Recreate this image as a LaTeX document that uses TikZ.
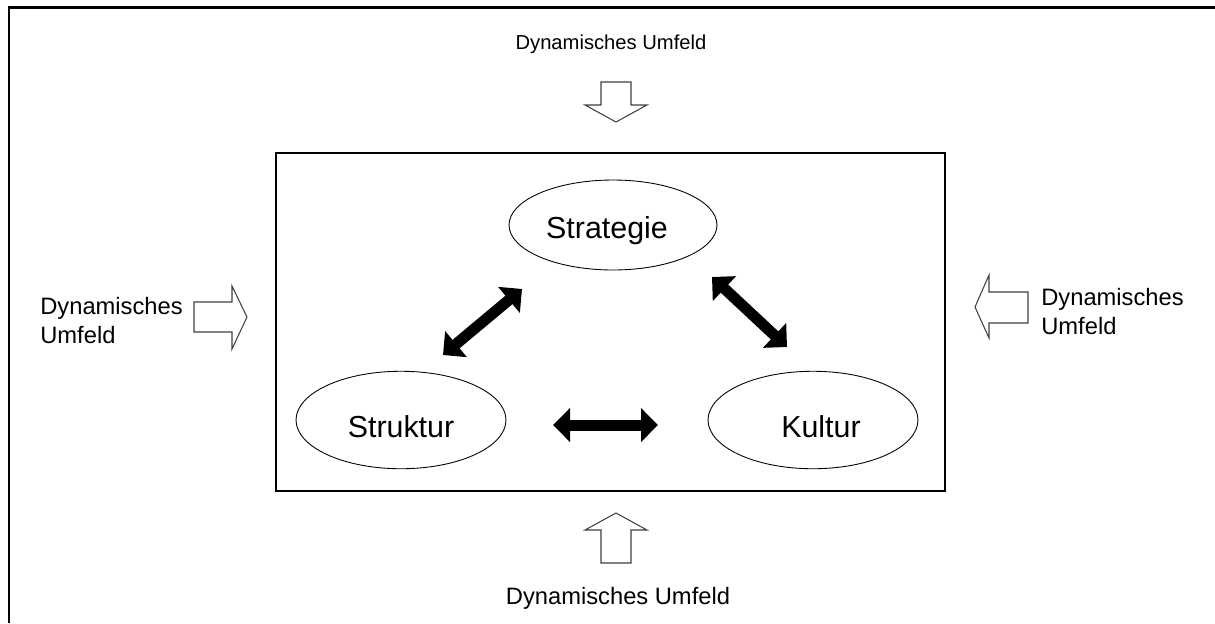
\documentclass[tikz,border=0pt]{standalone}
\usepackage{fontspec}
\setmainfont{Liberation Sans}
\usepackage{tikz}
\usetikzlibrary{shapes.geometric, arrows.meta}

\begin{document}
\begin{tikzpicture}[x=0.02cm, y=-0.02cm,
    oval/.style={ellipse, draw=black, line width=0.5pt, inner sep=0pt,
      text height=0.68cm, text depth=0pt,
      minimum width=4.2cm, minimum height=1.95cm, font=\fontsize{17.3}{20}\selectfont},
    umfeld/.style={font=\fontsize{13.5}{16.5}\selectfont, align=left, inner sep=0pt},
    dblarrow/.style={line width=0.22cm,
      {Triangle[length=0.34cm, width=0.66cm]}-{Triangle[length=0.34cm, width=0.66cm]}},
    hollow/.style={draw=black!75, line width=0.6pt, fill=white, line join=miter}]
      \useasboundingbox (0,0) rectangle (1215,623);

      \draw[line width=0.06cm] (9,623) -- (9,7) -- (1215,7);
      \draw[line width=0.85pt] (276,153) rectangle (945,491);

      \node[oval, minimum width=4.16cm, minimum height=1.8cm, text height=0.52cm] (strategie) at (613,225) {Strategie\rule{0.24cm}{0pt}};
      \node[oval] (struktur) at (401,420) {Struktur};
      \node[oval] (kultur) at (813,420) {\hspace{0.32cm}Kultur};

      \coordinate (a1) at (443,355);
      \coordinate (a2) at (522,289);
      \coordinate (b1) at (712,277);
      \coordinate (b2) at (787,347);
      \coordinate (c1) at (553,425);
      \coordinate (c2) at (658,425);
      \draw[dblarrow] (a1) -- (a2);
      \draw[dblarrow] (b1) -- (b2);
      \draw[dblarrow] (c1) -- (c2);

      \node[umfeld, font=\fontsize{11.5}{14}\selectfont] (oben) at (611,44) {Dynamisches Umfeld};
      \node[umfeld] (unten) at (618,598) {Dynamisches Umfeld};
      \node[umfeld, anchor=west] (links) at (40,321) {Dynamisches\\Umfeld};
      \node[umfeld, anchor=west] (rechts) at (1041,312) {Dynamisches\\Umfeld};

      \draw[hollow] (601,82) -- (631,82) -- (631,105) -- (647,105) -- (616,122)
        -- (585,105) -- (601,105) -- cycle;
      \draw[hollow] (601,563) -- (631,563) -- (631,530) -- (647,530) -- (616,513)
        -- (585,530) -- (601,530) -- cycle;
      \draw[hollow] (194,302) -- (232,302) -- (232,286) -- (247,317) -- (232,349)
        -- (232,332) -- (194,332) -- cycle;
      \draw[hollow] (1028,292) -- (989,292) -- (989,275) -- (975,307) -- (989,338)
        -- (989,323) -- (1028,323) -- cycle;
\end{tikzpicture}
\end{document}
